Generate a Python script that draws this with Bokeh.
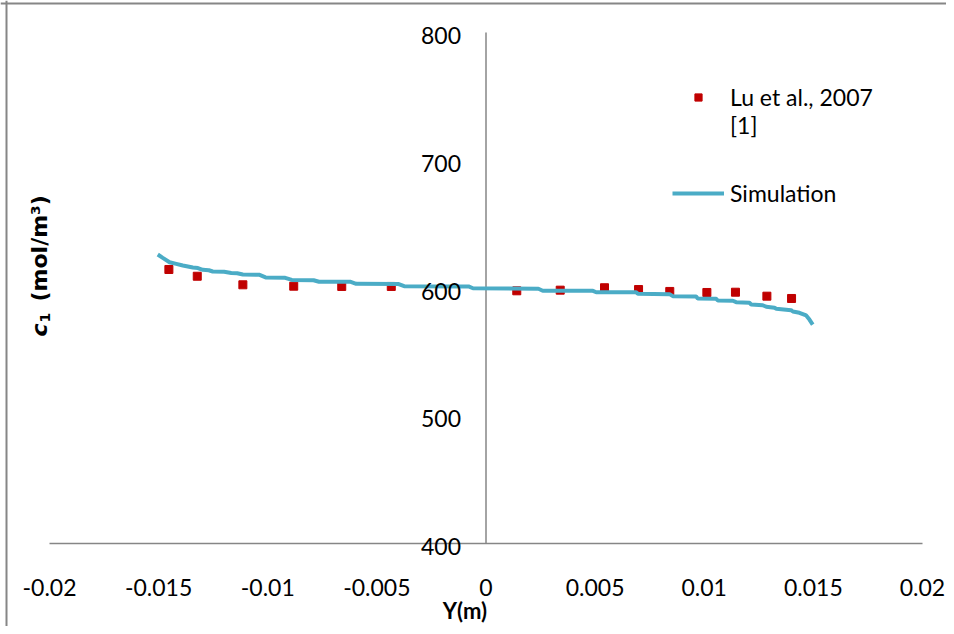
import math
from bokeh.plotting import figure
from bokeh.models import (Range1d, Span, Label, LabelSet, Legend, LegendItem, ColumnDataSource)
from bokeh.core.properties import value
from bokeh.embed import file_html
from bokeh.resources import INLINE

# ---------------- data ----------------
x_ticks = [-0.02, -0.015, -0.01, -0.005, 0, 0.005, 0.01, 0.015, 0.02]
x_tick_labels = ["-0.02", "-0.015", "-0.01", "-0.005", "0", "0.005", "0.01", "0.015", "0.02"]
y_ticks = [400, 500, 600, 700, 800]
y_tick_labels = ["400", "500", "600", "700", "800"]
y_axis_cross = 0.0

# Lu et al., 2007 [1] (experimental points)
exp_y = [-0.01453, -0.01323, -0.01114, -0.00881, -0.00661, -0.00434,
         0.00141, 0.00340, 0.00543, 0.00699, 0.00842, 0.01012, 0.01143, 0.01287, 0.01400]
exp_c1 = [614.5, 609.2, 602.5, 601.4, 601.2, 601.2,
          597.8, 598.3, 600.2, 598.8, 597.3, 596.5, 596.7, 593.6, 591.8]

# Simulation
sim_y = [-0.01504, -0.01481, -0.01450, -0.01419, -0.01389, -0.01343, -0.01320, -0.01298,
         -0.01270, -0.01252, -0.01200, -0.01167, -0.01140, -0.01114, -0.01040, -0.01010,
         -0.00920, -0.00890, -0.00790, -0.00765, -0.00620, -0.00595, -0.00400, -0.00375,
         -0.00080, -0.00060, 0.00240, 0.00260, 0.00490, 0.00505, 0.00688, 0.00696,
         0.00841, 0.00856, 0.00963, 0.00970, 0.01055, 0.01062, 0.01131, 0.01146,
         0.01207, 0.01215, 0.01268, 0.01284, 0.01322, 0.01330, 0.01398, 0.01406,
         0.01436, 0.01467, 0.01482, 0.01497]
sim_c1 = [626.2, 623.6, 620.2, 618.9, 617.6, 616.0, 615.6, 614.2,
          613.9, 612.9, 612.7, 611.8, 611.6, 610.6, 610.4, 608.3,
          608.0, 606.3, 606.1, 604.9, 604.8, 603.3, 603.1, 601.4,
          601.2, 599.8, 599.4, 597.8, 597.8, 596.7, 596.7, 595.5,
          595.2, 593.6, 593.3, 591.8, 591.5, 590.2, 590.0, 588.9,
          588.4, 587.1, 586.5, 585.3, 584.5, 583.7, 582.6, 581.6,
          580.6, 578.5, 575.3, 571.4]

series_names = ["Lu et al., 2007", "[1]", "Simulation"]
x_title = "Y(m)"
y_title_parts = ["c", "1", "(mol/m\u00b3)"]

# ---------------- layout / style ----------------
FONT = "Lato"
TITLE_FONT = "DejaVu Sans"
GREY = "#868686"
RED = "#C00000"
BLUE = "#4BACC6"

W, H = 946, 626
plot_left, plot_right, plot_top, plot_bottom = 49, 922, 32, 543   # pixel box of the plot area
border_left, border_top = 6, 3                                   # chart-area border (pixels)
x_min, x_max = x_ticks[0], x_ticks[-1]
y_min, y_max = y_ticks[0], y_ticks[-1]
sx = (x_max - x_min) / (plot_right - plot_left)
sy = (y_max - y_min) / (plot_bottom - plot_top)
x_range = Range1d(x_min - plot_left * sx, x_max + (W - plot_right) * sx)
y_range = Range1d(y_min - (H - plot_bottom) * sy, y_max + plot_top * sy)

p = figure(width=W, height=H, x_range=x_range, y_range=y_range,
           x_axis_location=None, y_axis_location=None,
           toolbar_location=None, output_backend="svg",
           min_border=0, min_border_left=0, min_border_right=0,
           min_border_top=0, min_border_bottom=0)
p.xgrid.visible = False
p.ygrid.visible = False
p.outline_line_color = None
p.background_fill_color = "white"
p.border_fill_color = "white"

# chart-area border (left and top edges)
p.add_layout(Span(location=x_range.start + border_left * sx, dimension="height",
                  line_color=GREY, line_width=2))
p.add_layout(Span(location=y_range.end - border_top * sy, dimension="width",
                  line_color=GREY, line_width=2))

# axes lines: horizontal at y=400, vertical crossing at x=0
p.segment(x0=[x_min], y0=[y_min], x1=[x_max], y1=[y_min], line_color=GREY, line_width=1.5)
p.segment(x0=[y_axis_cross], y0=[y_min], x1=[y_axis_cross], y1=[y_max],
          line_color=GREY, line_width=1.5)

sq = p.scatter(exp_y, exp_c1, marker="square", size=8, fill_color=RED, line_color=RED)
dummy = p.scatter(exp_y, exp_c1, marker="square", size=8, fill_alpha=0, line_alpha=0)
ln = p.line(sim_y, sim_c1, line_color=BLUE, line_width=4)

# tick labels
xsrc = ColumnDataSource(dict(x=x_ticks, y=[y_min] * len(x_ticks), t=x_tick_labels))
p.add_layout(LabelSet(x="x", y="y", text="t", source=xsrc, y_offset=-44,
                      text_align="center", text_baseline="middle",
                      text_font=value(FONT), text_font_size=value("23px"),
                      text_color="black"))
ysrc = ColumnDataSource(dict(x=[y_axis_cross] * len(y_ticks), y=y_ticks, t=y_tick_labels))
p.add_layout(LabelSet(x="x", y="y", text="t", source=ysrc, x_offset=-25, y_offset=-3,
                      text_align="right", text_baseline="middle",
                      text_font=value(FONT), text_font_size=value("23px"),
                      text_color="black"))

# axis titles
p.add_layout(Label(x=y_axis_cross, y=y_min, x_offset=-21, y_offset=-67, text=x_title,
                   text_align="center", text_baseline="middle", text_font=FONT,
                   text_font_size="22px", text_font_style="bold", text_color="black"))
p.add_layout(Label(x=39, y=290, x_units="screen", y_units="screen", text=y_title_parts[0],
                   angle=math.pi / 2, text_align="left", text_baseline="alphabetic",
                   text_font=TITLE_FONT, text_font_size="22px", text_font_style="bold italic",
                   text_color="black"))
p.add_layout(Label(x=44, y=304, x_units="screen", y_units="screen", text=y_title_parts[1],
                   angle=math.pi / 2, text_align="left", text_baseline="alphabetic",
                   text_font=TITLE_FONT, text_font_size="14px", text_font_style="bold",
                   text_color="black"))
p.add_layout(Label(x=39, y=325, x_units="screen", y_units="screen", text=y_title_parts[2],
                   angle=math.pi / 2, text_align="left", text_baseline="alphabetic",
                   text_font=TITLE_FONT, text_font_size="22px", text_font_style="bold",
                   text_color="black"))

common = dict(orientation="vertical", glyph_width=52, glyph_height=18, label_standoff=6,
              padding=0, margin=0, border_line_color=None, background_fill_alpha=0,
              label_text_font=FONT, label_text_font_size="23px", label_text_color="black")
leg_a = Legend(items=[LegendItem(label=series_names[0], renderers=[sq]),
                      LegendItem(label=series_names[1], renderers=[dummy])],
               location=(672, 487), spacing=-1, **common)
leg_b = Legend(items=[LegendItem(label=series_names[2], renderers=[ln])],
               location=(672, 419), spacing=0, **common)
p.add_layout(leg_a)
p.add_layout(leg_b)

open("out.html", "w").write(file_html(p, INLINE))
